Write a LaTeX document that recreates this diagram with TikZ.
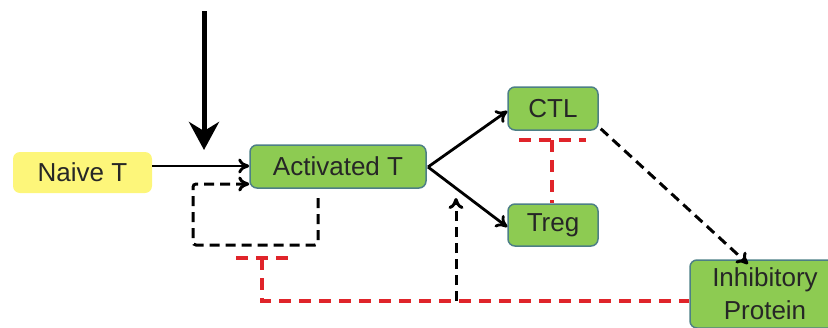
\documentclass[tikz,border=0pt]{standalone}
\usepackage{fontspec}
\setmainfont{Liberation Sans}
\usetikzlibrary{arrows.meta}
\definecolor{gfill}{HTML}{8DCB52}
\definecolor{gdraw}{HTML}{4D7F86}
\definecolor{yfill}{HTML}{FDF67A}
\definecolor{rdash}{HTML}{E0242A}
\tikzset{
  gbox/.style={draw=gdraw, line width=1.5pt, fill=gfill, rounded corners=7pt, inner sep=0pt, font=\fontsize{26}{30}\selectfont, text=black!85},
  ybox/.style={fill=yfill, rounded corners=7pt, inner sep=0pt, font=\fontsize{26}{30}\selectfont, text=black!85},
  solidarr/.style={line width=2.8pt, -{To[length=11pt,width=15pt]}},
  dasharr/.style={line width=3pt, dash pattern=on 10pt off 6pt, -{To[length=11pt,width=15pt]}},
  redline/.style={line width=3.2pt, draw=rdash, dash pattern=on 12pt off 8pt},
}
\begin{document}
\begin{tikzpicture}[x=1pt,y=-1pt]
\useasboundingbox (0,0) rectangle (828,327);
\node[ybox, minimum width=139pt, minimum height=41pt] (naive) at (82.5,172.5) {Naive T};
\node[gbox, minimum width=176pt, minimum height=43pt] (act) at (338,166.5) {Activated T};
\node[gbox, minimum width=90pt, minimum height=43pt] (ctl) at (553,108.5) {CTL};
\node[gbox, minimum width=90pt, minimum height=42pt] (treg) at (553,225) {Treg};
\node[gbox, minimum width=150pt, minimum height=68pt, align=center, font=\fontsize{26}{33}\selectfont] (inh) at (765,294) {Inhibitory\\Protein};
% top arrow
\coordinate (top) at (204,11);
\coordinate (topend) at (204,150);
\draw[line width=5pt, -{Stealth[length=28pt,width=30pt,inset=9pt]}] (top) -- (topend);
% naive -> activated
\draw[solidarr] (naive.east |- 0,166) -- (act.west |- 0,166);
% activated -> CTL, Treg
\coordinate (split) at (428,167);
\draw[solidarr] (split) -- (ctl.west |- 0,111);
\draw[solidarr] (split) -- (treg.west |- 0,227);
% dashed loop
\coordinate (l1) at (318,198);
\coordinate (l2) at (318,245);
\coordinate (l3) at (193,245);
\coordinate (l4) at (193,184);
\draw[dasharr, rounded corners=3pt] (l1) -- (l2) -- (l3) -- (l4) -- (act.west |- l4);
% CTL -> Inhibitory
\draw[dasharr] (ctl.south east) ++(2,-2) coordinate (c1) -- (748,264);
% red T between CTL and Treg
\coordinate (rb1) at (519,140);
\coordinate (rb2) at (586,140);
\draw[redline] (rb1) -- (rb2);
\draw[redline] (552,140) -- (treg.north -| 552,0);
% red T from Inhibitory to loop
\coordinate (rt1) at (236,258);
\coordinate (rt2) at (288,258);
\draw[redline] (rt1) -- (rt2);
\draw[redline] (262,258) -- (262,301) -- (inh.west |- 0,301);
% dashed up arrow
\coordinate (up1) at (456,301);
\draw[dasharr] (up1) -- (456,198);
\end{tikzpicture}
\end{document}
